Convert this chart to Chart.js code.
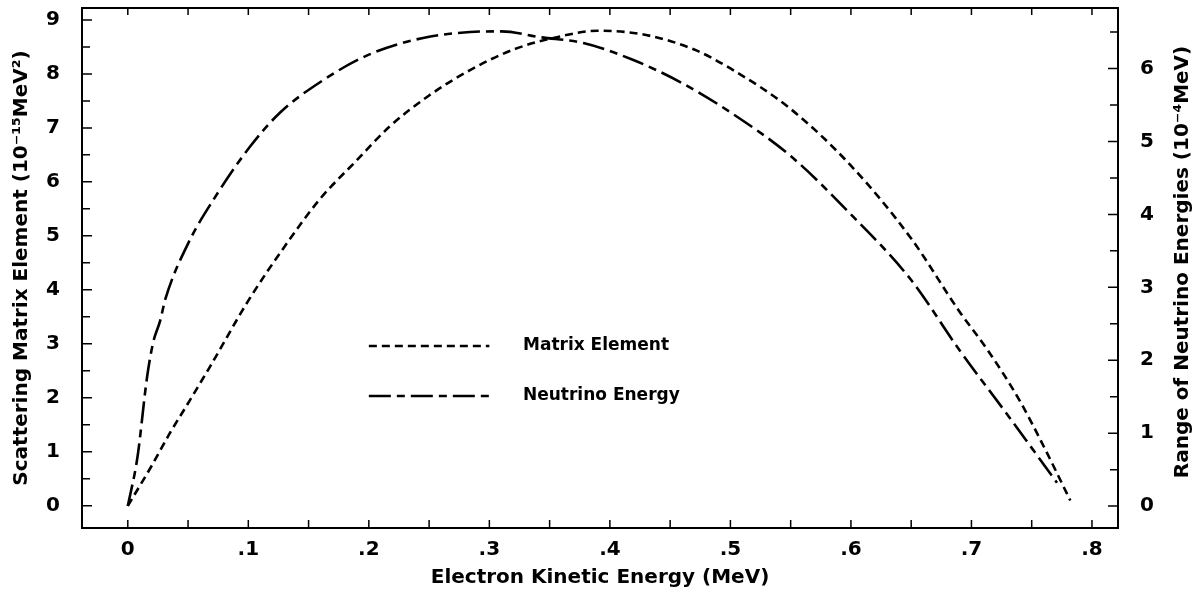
<!DOCTYPE html>
<html lang="en">
<head>
    <meta charset="UTF-8">
    <title>Matrix Element and Neutrino Energy</title>
    <script src="https://cdn.jsdelivr.net/npm/chart.js"></script>
    <style>
        html, body { margin: 0; padding: 0; background: #fff; }
        #wrap { width: 1202px; height: 596px; }
    </style>
</head>
<body>
<div id="wrap"><canvas id="chart"></canvas></div>
<script>
    // Matrix element curve (left axis, 10^-15 MeV^2)
    const meEnergy = [0, 0.02, 0.035, 0.05, 0.068, 0.1, 0.13, 0.159, 0.19, 0.217, 0.25, 0.284, 0.32, 0.36, 0.39,
        0.43, 0.47, 0.5, 0.55, 0.6, 0.65, 0.69, 0.713, 0.74, 0.76, 0.782];
    const meValues = [0, 0.75, 1.35, 1.9, 2.57, 3.8, 4.8, 5.67, 6.4, 7.02, 7.6, 8.07, 8.45, 8.7, 8.8,
        8.72, 8.45, 8.1, 7.35, 6.3, 4.95, 3.6, 2.9, 1.95, 1.1, 0.1];

    // Neutrino energy range curve (right axis, 10^-4 MeV)
    const nuEnergy = [0, 0.008, 0.016, 0.021, 0.027, 0.031, 0.05, 0.071, 0.101, 0.126, 0.162, 0.2, 0.245, 0.284,
        0.31, 0.342, 0.378, 0.419, 0.46, 0.5, 0.55, 0.6, 0.65, 0.69, 0.73, 0.771];
    const nuValues = [0, 0.67, 1.77, 2.24, 2.55, 2.83, 3.6, 4.2, 4.92, 5.39, 5.84, 6.19, 6.42, 6.5,
        6.51, 6.43, 6.35, 6.12, 5.8, 5.4, 4.8, 4.0, 3.1, 2.14, 1.25, 0.32];

    // tick labels
    const xTicks = [0, 0.1, 0.2, 0.3, 0.4, 0.5, 0.6, 0.7, 0.8];
    const leftTicks = [0, 1, 2, 3, 4, 5, 6, 7, 8, 9];
    const rightTicks = [0, 1, 2, 3, 4, 5, 6];

    const FONT = 'DejaVu Sans';
    const ME_DASH = [8, 5];
    const NU_DASH = [22, 6, 8, 6];
    const RIGHT_TITLE = 'Range of Neutrino Energies (10⁻⁴MeV)';

    function pts(xs, ys) {
        return xs.map((x, i) => ({x: x, y: ys[i]}));
    }

    function fixTicks(list) {
        return function (scale) {
            scale.ticks = list.map(v => ({value: v}));
        };
    }

    function noPad(scale) {
        scale.paddingTop = 0;
        scale.paddingBottom = 0;
        scale.paddingLeft = 0;
        scale.paddingRight = 0;
    }

    // frame, inward ticks, right title and the legend inside the plot
    const framePlugin = {
        id: 'frame',
        afterDraw(chart) {
            const ctx = chart.ctx;
            const a = chart.chartArea;
            const sx = chart.scales.x, sl = chart.scales.y, sr = chart.scales.y2;
            ctx.save();
            ctx.strokeStyle = '#000';
            ctx.lineWidth = 2;
            ctx.setLineDash([]);
            ctx.strokeRect(a.left, a.top, a.right - a.left, a.bottom - a.top);

            ctx.lineWidth = 1.5;
            ctx.beginPath();
            for (let v = 0; v <= 0.8001; v += 0.05) {
                const px = sx.getPixelForValue(v);
                ctx.moveTo(px, a.bottom); ctx.lineTo(px, a.bottom - 8);
                ctx.moveTo(px, a.top); ctx.lineTo(px, a.top + 7);
            }
            for (let v = 0; v <= 9.001; v += 0.5) {
                const py = sl.getPixelForValue(v);
                const len = Number.isInteger(v) ? 10 : 8;
                ctx.moveTo(a.left, py); ctx.lineTo(a.left + len, py);
            }
            for (let v = 0; v <= 6.501; v += 0.5) {
                const py = sr.getPixelForValue(v);
                const len = Number.isInteger(v) ? 10 : 8;
                ctx.moveTo(a.right, py); ctx.lineTo(a.right - len, py);
            }
            ctx.stroke();

            ctx.fillStyle = '#000';

            // right axis title, read bottom to top like the left one
            ctx.save();
            ctx.font = 'bold 20px ' + FONT;
            ctx.textAlign = 'center';
            ctx.textBaseline = 'middle';
            ctx.translate(chart.width - 19, (a.top + a.bottom) / 2 - 6);
            ctx.rotate(-Math.PI / 2);
            ctx.fillText(RIGHT_TITLE, 0, 0);
            ctx.restore();

            // legend
            const x0 = sx.getPixelForValue(0.2), x1 = sx.getPixelForValue(0.3);
            const rows = [346, 396];
            ctx.font = 'bold 17px ' + FONT;
            ctx.textBaseline = 'middle';
            chart.data.datasets.forEach((ds, i) => {
                ctx.lineWidth = 2.5;
                ctx.setLineDash(ds.borderDash);
                ctx.beginPath();
                ctx.moveTo(x0, rows[i]);
                ctx.lineTo(x1, rows[i]);
                ctx.stroke();
                ctx.setLineDash([]);
                ctx.fillText(ds.label, 523, rows[i]);
            });
            ctx.restore();
        }
    };

    new Chart(document.getElementById('chart'), {
        type: 'scatter',
        data: {
            datasets: [{
                label: 'Matrix Element',
                data: pts(meEnergy, meValues),
                yAxisID: 'y',
                showLine: true,
                borderColor: '#000',
                borderWidth: 2.6,
                borderDash: ME_DASH,
                pointRadius: 0,
                cubicInterpolationMode: 'monotone'
            }, {
                label: 'Neutrino Energy',
                data: pts(nuEnergy, nuValues),
                yAxisID: 'y2',
                showLine: true,
                borderColor: '#000',
                borderWidth: 2.6,
                borderDash: NU_DASH,
                pointRadius: 0,
                cubicInterpolationMode: 'monotone'
            }]
        },
        options: {
            responsive: true,
            maintainAspectRatio: false,
            animation: false,
            layout: {padding: {top: 8, left: 0, right: 0, bottom: 0}},
            plugins: {
                legend: {display: false},
                tooltip: {enabled: false}
            },
            scales: {
                x: {
                    type: 'linear',
                    min: -0.038,
                    max: 0.8216,
                    afterBuildTicks: fixTicks(xTicks),
                    afterFit(scale) { scale.height = 68; noPad(scale); },
                    grid: {display: false},
                    border: {display: false},
                    ticks: {
                        color: '#000',
                        padding: 2,
                        maxRotation: 0,
                        font: {family: FONT, size: 20, weight: 'bold'},
                        callback: v => v === 0 ? '0' : String(Math.round(v * 10) / 10).replace(/^0/, '')
                    },
                    title: {
                        display: true,
                        text: 'Electron Kinetic Energy (MeV)',
                        color: '#000',
                        padding: {top: 0, bottom: 6},
                        font: {family: FONT, size: 20, weight: 'bold'}
                    }
                },
                y: {
                    position: 'left',
                    min: -0.41,
                    max: 9.22,
                    afterBuildTicks: fixTicks(leftTicks),
                    afterFit(scale) { scale.width = 82; noPad(scale); },
                    grid: {display: false},
                    border: {display: false},
                    ticks: {
                        color: '#000',
                        padding: 14,
                        font: {family: FONT, size: 20, weight: 'bold'}
                    },
                    title: {
                        display: true,
                        text: 'Scattering Matrix Element (10⁻¹⁵MeV²)',
                        color: '#000',
                        padding: {top: 10, bottom: 0},
                        font: {family: FONT, size: 20, weight: 'bold'}
                    }
                },
                y2: {
                    position: 'right',
                    min: -0.30,
                    max: 6.83,
                    afterBuildTicks: fixTicks(rightTicks),
                    afterFit(scale) { scale.width = 84; noPad(scale); },
                    grid: {display: false},
                    border: {display: false},
                    ticks: {
                        color: '#000',
                        padding: 14,
                        font: {family: FONT, size: 20, weight: 'bold'}
                    },
                    title: {display: false}
                }
            }
        },
        plugins: [framePlugin]
    });
</script>
</body>
</html>
